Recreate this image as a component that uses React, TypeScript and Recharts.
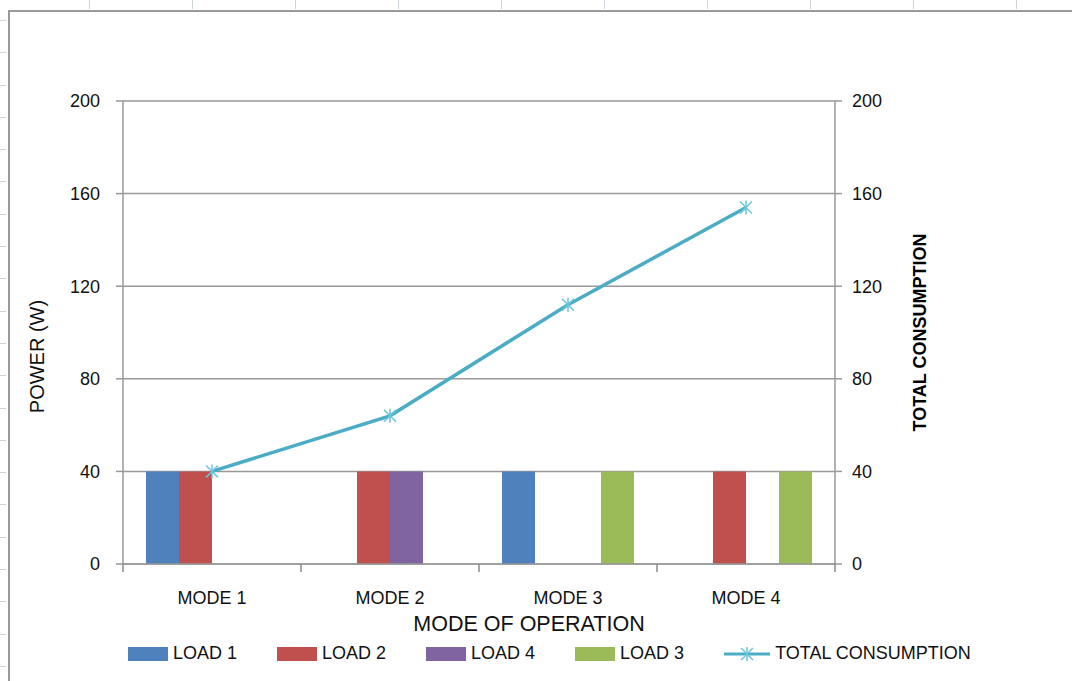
import React from 'react';
import { ComposedChart, Bar, Line, XAxis, YAxis, CartesianGrid, Label } from 'recharts';

const modes = ['MODE 1', 'MODE 2', 'MODE 3', 'MODE 4'];
const load1 = [40, 0, 40, 0];
const load2 = [40, 40, 0, 40];
const load4 = [0, 40, 0, 0];
const load3 = [0, 0, 40, 40];
const total = [40, 64, 112, 154];
const yTicks = [0, 40, 80, 120, 160, 200];

const barSeries = [
  { key: 'load1', name: 'LOAD 1', color: '#4F81BD' },
  { key: 'load2', name: 'LOAD 2', color: '#C0504D' },
  { key: 'load4', name: 'LOAD 4', color: '#8064A2' },
  { key: 'load3', name: 'LOAD 3', color: '#9BBB59' },
];
const lineColor = '#4BACC6';

const data = modes.map((mode, i) => ({
  mode,
  load1: load1[i],
  load2: load2[i],
  load4: load4[i],
  load3: load3[i],
  total: total[i],
}));

const FONT = '"Liberation Sans", Arial, sans-serif';
const AXIS = '#999999';
const X_TICK_MARGIN = 27;

const Star = (props: any) => {
  const { cx, cy } = props;
  if (cx == null || cy == null) return null;
  const r = 7;
  const d = r * 0.85;
  return (
    <g stroke="#6cc6de" strokeWidth={1.5}>
      <line x1={cx} y1={cy - r} x2={cx} y2={cy + r} />
      <line x1={cx - d} y1={cy - d} x2={cx + d} y2={cy + d} />
      <line x1={cx - d} y1={cy + d} x2={cx + d} y2={cy - d} />
    </g>
  );
};

// category label plus Excel-style tick marks on the band edges
const ModeTick = (props: any) => {
  const { x, y, payload, index, visibleTicksCount } = props;
  const half = payload?.offset ?? 0;
  const axisY = y - X_TICK_MARGIN;
  const last = index === (visibleTicksCount ?? modes.length) - 1;
  return (
    <g>
      {half > 0 && <line x1={x - half} x2={x - half} y1={axisY} y2={axisY + 8} stroke="#8a8a8a" strokeWidth={1.5} />}
      {half > 0 && last && <line x1={x + half} x2={x + half} y1={axisY} y2={axisY + 8} stroke="#8a8a8a" strokeWidth={1.5} />}
      <text x={x} y={y} dy="0.71em" textAnchor="middle" style={{ fill: '#111', fontSize: 18, fontFamily: FONT }}>
        {payload.value}
      </text>
    </g>
  );
};

// left axis title sits a little below the middle of the axis, as in the original
const PowerTitle = (props: any) => {
  const { viewBox } = props;
  const x = viewBox.x + 37;
  const y = viewBox.y + viewBox.height / 2 + 24;
  return (
    <text x={x} y={y} transform={`rotate(-90 ${x} ${y})`} textAnchor="middle" dominantBaseline="central"
      style={{ fill: '#111', fontSize: 20, fontFamily: FONT }}>
      POWER (W)
    </text>
  );
};

// x title is shifted to the right of the plot centre in the original
const ModeTitle = (props: any) => {
  const { viewBox } = props;
  const x = viewBox.x + viewBox.width / 2 + 50;
  const y = viewBox.y + viewBox.height;
  return (
    <text x={x} y={y} textAnchor="middle" style={{ fill: '#111', fontSize: 21.5, fontFamily: FONT }}>
      MODE OF OPERATION
    </text>
  );
};

const tickStyle = { fill: '#111', fontSize: 18, fontFamily: FONT };

export default function App() {
  return (
    <div style={{ position: 'absolute', left: 0, top: 0, width: 1072, height: 681, background: '#fff', overflow: 'hidden' }}>
      {/* spreadsheet frame behind the chart */}
      <div style={{ position: 'absolute', left: 8, top: 10, right: 0, bottom: 0, borderLeft: '2px solid #9a9a9a', borderTop: '2px solid #9a9a9a' }} />
      <div style={{ position: 'absolute', left: 0, top: 0, width: 1072, height: 9, background: 'repeating-linear-gradient(90deg, transparent 0 89px, #cdd4de 89px 90px, transparent 90px 103px)' }} />
      <div style={{ position: 'absolute', left: 0, top: 20, width: 6, height: 661, background: 'repeating-linear-gradient(180deg, #cdd4de 0 1px, transparent 1px 32.3px)' }} />

      <div style={{ position: 'absolute', left: 0, top: 0 }}>
        <ComposedChart
          width={1072}
          height={681}
          data={data}
          margin={{ top: 101, left: 0, right: 137, bottom: 50 }}
          barSize={33}
          barGap={0}
        >
          <CartesianGrid vertical={false} stroke={AXIS} strokeWidth={1.5} yAxisId="left" />
          <XAxis
            dataKey="mode"
            tickLine={false}
            tickSize={0}
            tickMargin={X_TICK_MARGIN}
            axisLine={{ stroke: AXIS, strokeWidth: 1.5 }}
            tick={<ModeTick />}
            height={67}
            interval={0}
          >
            <Label content={<ModeTitle />} />
          </XAxis>
          <YAxis
            yAxisId="left"
            domain={[0, 200]}
            ticks={yTicks}
            width={123}
            tickSize={7}
            tickMargin={16}
            tick={tickStyle}
            tickLine={{ stroke: AXIS, strokeWidth: 1.5 }}
            axisLine={{ stroke: AXIS, strokeWidth: 1.5 }}
            interval={0}
          >
            <Label content={<PowerTitle />} />
          </YAxis>
          <YAxis
            yAxisId="right"
            orientation="right"
            domain={[0, 200]}
            ticks={yTicks}
            width={100}
            tickSize={7}
            tickMargin={10}
            tick={tickStyle}
            tickLine={{ stroke: AXIS, strokeWidth: 1.5 }}
            axisLine={{ stroke: AXIS, strokeWidth: 1.5 }}
            interval={0}
          >
            <Label value="TOTAL CONSUMPTION" angle={-90} position="insideRight" offset={15} style={{ textAnchor: 'middle', fill: '#000', fontSize: 18, fontWeight: 'bold', fontFamily: FONT }} />
          </YAxis>
          {barSeries.map(s => (
            <Bar key={s.key} yAxisId="left" dataKey={s.key} name={s.name} fill={s.color} isAnimationActive={false} />
          ))}
          <Line
            yAxisId="right"
            type="linear"
            dataKey="total"
            name="TOTAL CONSUMPTION"
            stroke={lineColor}
            strokeWidth={3.5}
            dot={<Star />}
            activeDot={false}
            isAnimationActive={false}
          />
        </ComposedChart>
      </div>

      <div style={{ position: 'absolute', left: 128, top: 643, display: 'flex', alignItems: 'center', gap: 40, fontFamily: FONT, fontSize: 18, color: '#111' }}>
        {barSeries.map(s => (
          <div key={s.key} style={{ display: 'flex', alignItems: 'center', gap: 5 }}>
            <div style={{ width: 40, height: 14, background: s.color }} />
            <span>{s.name}</span>
          </div>
        ))}
        <div style={{ display: 'flex', alignItems: 'center', gap: 5 }}>
          <svg width={46} height={18}>
            <line x1={0} y1={9} x2={46} y2={9} stroke={lineColor} strokeWidth={3} />
            <Star cx={23} cy={9} />
          </svg>
          <span>TOTAL CONSUMPTION</span>
        </div>
      </div>
    </div>
  );
}
